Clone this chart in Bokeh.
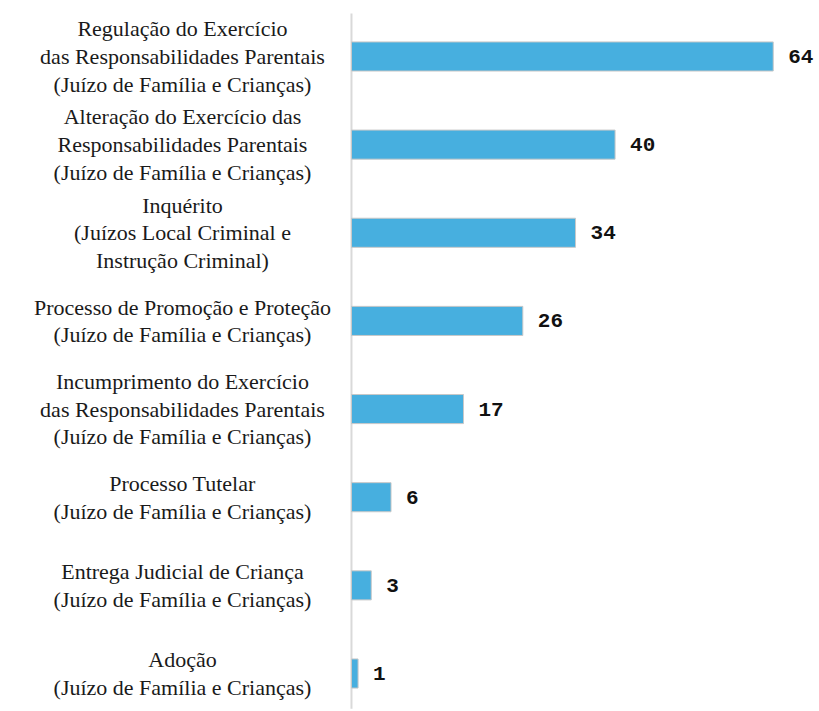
from bokeh.plotting import figure
from bokeh.models import Range1d, ColumnDataSource
from bokeh.core.properties import value
from bokeh.embed import file_html
from bokeh.resources import INLINE

categories = [
    "Regulação do Exercício\ndas Responsabilidades Parentais\n(Juízo de Família e Crianças)",
    "Alteração do Exercício das\nResponsabilidades Parentais\n(Juízo de Família e Crianças)",
    "Inquérito\n(Juízos Local Criminal e\nInstrução Criminal)",
    "Processo de Promoção e Proteção\n(Juízo de Família e Crianças)",
    "Incumprimento do Exercício\ndas Responsabilidades Parentais\n(Juízo de Família e Crianças)",
    "Processo Tutelar\n(Juízo de Família e Crianças)",
    "Entrega Judicial de Criança\n(Juízo de Família e Crianças)",
    "Adoção\n(Juízo de Família e Crianças)",
]
counts = [64, 40, 34, 26, 17, 6, 3, 1]

pos = list(range(len(categories)))
src = ColumnDataSource(dict(
    y=pos,
    v=counts,
    cat=categories,
    lab=[str(c) for c in counts],
    zero=[0] * len(counts),
))

p = figure(width=819, height=711, output_backend="svg", toolbar_location=None,
           x_range=Range1d(-53.26, 71.02), y_range=Range1d(7.431, -0.635),
           min_border=0, min_border_left=0, min_border_right=0,
           min_border_top=0, min_border_bottom=0)
p.axis.visible = False
p.grid.visible = False
p.outline_line_color = None
p.background_fill_color = "white"
p.border_fill_color = "white"

# axis line
p.segment(x0=[0], y0=[-0.488], x1=[0], y1=[7.40], line_color="#d9d9d9", line_width=2)

p.hbar(y="y", left=0, right="v", height=0.33, source=src,
       fill_color="#47AFDF", line_color="#c8c8c8", line_width=1)

p.text(x="zero", y="y", text="cat", source=src, x_offset=-169,
       text_align="center", text_baseline="middle",
       text_font=value("Liberation Serif"), text_font_size="22px",
       text_line_height=1.11, text_color="#1a1a1a")

p.text(x="v", y="y", text="lab", source=src, x_offset=15,
       text_align="left", text_baseline="middle",
       text_font=value("Liberation Mono"), text_font_style="bold",
       text_font_size="21px", text_color="#111111")

open("out.html", "w").write(file_html(p, INLINE))
